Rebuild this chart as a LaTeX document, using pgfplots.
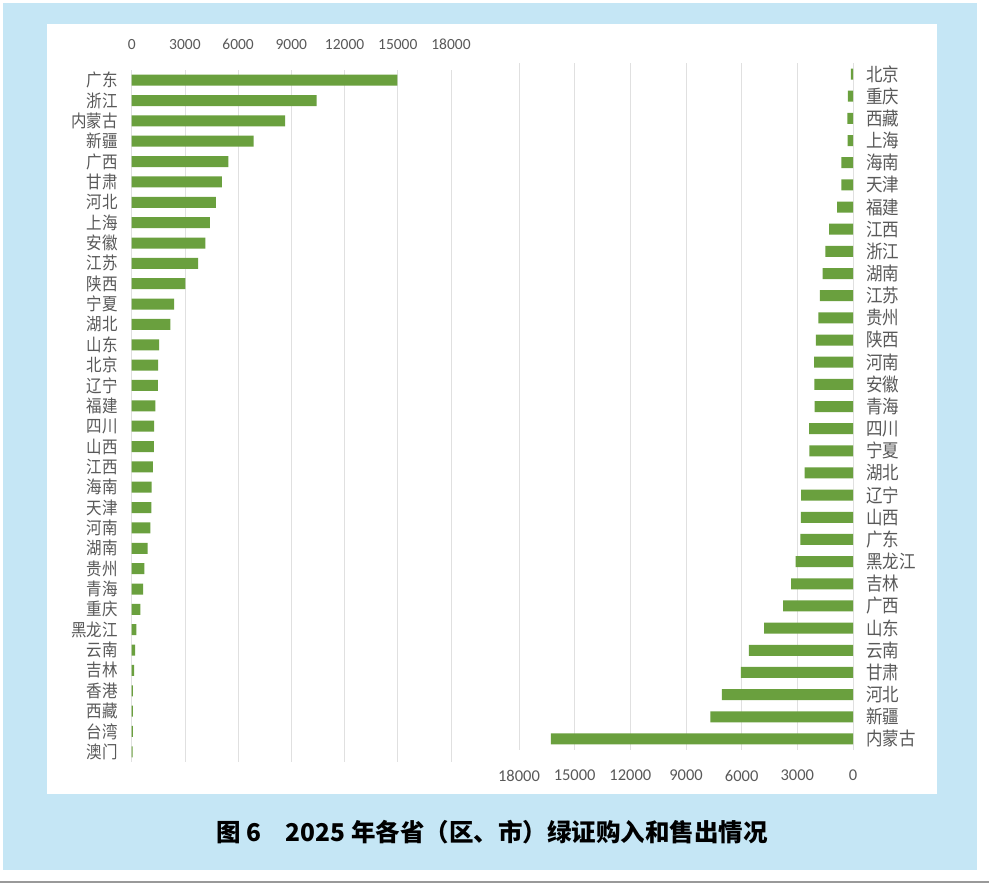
\documentclass[border=0pt]{standalone}
\usepackage{pgfplots}
\pgfplotsset{compat=1.18}
\usepackage{fontspec}
\setmainfont{Carlito}
\newfontfamily\cjk{Noto Sans CJK SC}
\newcommand\vs[1]{\scalebox{1}[1.12]{#1}}
\definecolor{bargreen}{RGB}{106,160,62}
\definecolor{framebl}{RGB}{197,230,245}
\definecolor{txtgray}{RGB}{89,89,89}
\definecolor{gridgray}{RGB}{224,224,224}
\pgfplotsset{
  common/.style={
    scale only axis,
    xbar, bar width=11pt, bar shift=0pt,
    xmin=0, xmax=18000, y dir=reverse,
    xtick={0,3000,...,18000},
    axis line style={draw=none},
    major tick length=0pt,
    xmajorgrids, ymajorgrids=false,
    grid style={gridgray, line width=0.8pt},
    scaled x ticks=false,
    /pgf/number format/assume math mode=true,
    /pgf/number format/1000 sep={},
    tick label style={text=txtgray},
  }
}
\begin{document}
\begin{tikzpicture}[x=1pt,y=1pt]
\useasboundingbox (0,0) rectangle (989,884);
\fill[framebl] (3,14) rectangle (977,881);
\fill[white] (47,90) rectangle (937,860);
\draw[gray!80, line width=2pt] (0,1.5) -- (989,1.5);
% left: purchases
\begin{axis}[common,
  at={(131.7pt,122pt)}, anchor=south west,
  width=319.3pt, height=692pt,
  ymin=-0.5, ymax=33.5,
  ytick={0,...,33},
  yticklabels={\vs{广东},\vs{浙江},\vs{内蒙古},\vs{新疆},\vs{广西},\vs{甘肃},\vs{河北},\vs{上海},\vs{安徽},\vs{江苏},\vs{陕西},\vs{宁夏},\vs{湖北},\vs{山东},\vs{北京},\vs{辽宁},\vs{福建},\vs{四川},\vs{山西},\vs{江西},\vs{海南},\vs{天津},\vs{河南},\vs{湖南},\vs{贵州},\vs{青海},\vs{重庆},\vs{黑龙江},\vs{云南},\vs{吉林},\vs{香港},\vs{西藏},\vs{台湾},\vs{澳门}},
  yticklabel style={font=\cjk\fontsize{15.5}{15.5}\selectfont, inner sep=0pt, xshift=-13.5pt},
  xticklabel pos=right,
  xticklabel style={font=\fontsize{15.5}{15.5}\selectfont, inner sep=0pt, yshift=20pt},
]
\addplot[fill=bargreen, draw=none] coordinates {
(14980,0) (10420,1) (8650,2) (6880,3) (5450,4) (5090,5) (4740,6) (4400,7)
(4150,8) (3740,9) (3030,10) (2390,11) (2180,12) (1540,13) (1490,14) (1470,15)
(1340,16) (1260,17) (1250,18) (1200,19) (1130,20) (1110,21) (1050,22) (900,23)
(710,24) (640,25) (490,26) (260,27) (190,28) (130,29) (70,30) (65,31) (60,32) (55,33)};
\node[font=\cjk\fontsize{16}{16}\selectfont, text=txtgray, anchor=north] at (rel axis cs:0.5,0) [yshift=-5pt] {\vs{绿证购入量 / 万个}};
\end{axis}
% right: sales
\begin{axis}[common,
  at={(519pt,134pt)}, anchor=south west,
  width=334pt, height=687pt,
  x dir=reverse,
  ymin=-0.5, ymax=30.5,
  ytick={0,...,30},
  yticklabels={\vs{北京},\vs{重庆},\vs{西藏},\vs{上海},\vs{海南},\vs{天津},\vs{福建},\vs{江西},\vs{浙江},\vs{湖南},\vs{江苏},\vs{贵州},\vs{陕西},\vs{河南},\vs{安徽},\vs{青海},\vs{四川},\vs{宁夏},\vs{湖北},\vs{辽宁},\vs{山西},\vs{广东},\vs{黑龙江},\vs{吉林},\vs{广西},\vs{山东},\vs{云南},\vs{甘肃},\vs{河北},\vs{新疆},\vs{内蒙古}},
  yticklabel pos=right,
  yticklabel style={font=\cjk\fontsize{16.5}{16.5}\selectfont, inner sep=0pt, xshift=13pt},
  xticklabel style={font=\fontsize{16.5}{16.5}\selectfont, inner sep=0pt, yshift=-20pt},
]
\addplot[fill=bargreen, draw=none] coordinates {
(120,0) (270,1) (300,2) (290,3) (630,4) (620,5) (850,6) (1280,7) (1490,8) (1640,9)
(1780,10) (1870,11) (2000,12) (2090,13) (2080,14) (2070,15) (2360,16) (2350,17)
(2610,18) (2800,19) (2810,20) (2830,21) (3090,22) (3330,23) (3760,24) (4790,25)
(5610,26) (6040,27) (7070,28) (7680,29) (16280,30)};
\node[font=\cjk\fontsize{17}{17}\selectfont, text=txtgray, anchor=south] at (rel axis cs:0.5,1) [yshift=13pt] {\vs{绿证出售量 / 万个}};
\end{axis}
\node[font=\cjk\bfseries\fontsize{24.5}{24.5}\selectfont] at (492,52) {图 6\quad 2025 年各省（区、市）绿证购入和售出情况};
\end{tikzpicture}
\end{document}
